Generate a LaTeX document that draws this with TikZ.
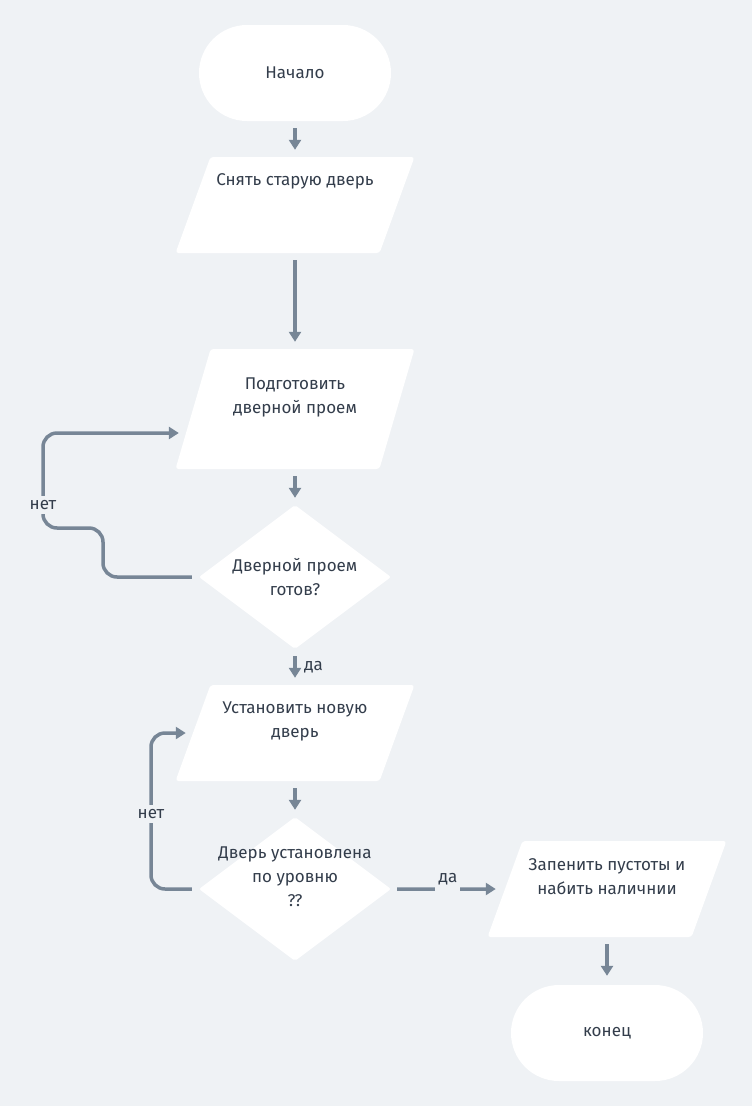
\documentclass[tikz,border=0pt]{standalone}
\usepackage{fontspec}
\setmainfont{Fira Sans}
\usetikzlibrary{shapes.geometric, arrows.meta}
\definecolor{bgcol}{HTML}{EFF2F5}
\definecolor{linecol}{HTML}{778696}
\definecolor{textcol}{HTML}{333D4B}

\begin{document}
\begin{tikzpicture}[x=1pt, y=-1pt,
    every node/.style={font=\fontsize{17}{24}\selectfont, text=textcol},
    terminal/.style={fill=white, rounded corners=48pt, minimum width=192pt, minimum height=96pt, inner sep=0pt},
    slanted/.style={trapezium, trapezium stretches body=true, trapezium left angle=70, trapezium right angle=110,
        fill=white, rounded corners=3pt, minimum width=239pt, inner sep=4pt},
    decision/.style={diamond, fill=white, rounded corners=2pt, minimum width=192pt, minimum height=144pt, inner sep=4pt},
    txt/.style={align=center, inner sep=0pt},
    flow/.style={draw=linecol, line width=3.5pt, shorten <=7pt, shorten >=7pt,
        -{Triangle[length=10pt, width=12pt]}},
    tag/.style={fill=bgcol, inner sep=4pt},
    gap/.style={fill=bgcol, minimum width=25pt, minimum height=10pt, inner sep=0pt}
]
    % Background and frame
    \fill[bgcol] (0,0) rectangle (752,1106);
    \useasboundingbox (0,0) rectangle (752,1106);

    % Main column
    \node[terminal] (start) at (295,73) {Начало};
    \node[slanted] (p1) at (295,205) {\rule{0pt}{88pt}};
    \node[txt] (t1) at ([yshift=24pt]p1.center) {Снять старую дверь};
    \node[slanted, trapezium left angle=73.7, trapezium right angle=106.3] (p2) at (295,409) {\rule{0pt}{112pt}};
    \node[txt] (t2) at ([yshift=12pt]p2.center) {Подготовить\\дверной проем};
    \node[decision] (d1) at (295,577) {\strut};
    \node[txt] (td1) at (d1.center) {Дверной проем\\готов?};
    \node[slanted] (p3) at (295,733) {\rule{0pt}{88pt}};
    \node[txt] (t3) at ([yshift=12pt]p3.center) {Установить новую\\дверь};
    \node[decision] (d2) at (295,889) {\strut};
    \node[txt] (td2) at ([yshift=12pt]d2.center) {Дверь установлена\\по уровню\\??};

    % Right column
    \node[slanted] (p4) at (607,889) {\rule{0pt}{88pt}};
    \node[txt] (t4) at ([yshift=12pt]p4.center) {Запенить пустоты и\\набить наличнии};
    \node[terminal] (end) at (607,1033) {конец};

    % Connectors
    \draw[flow] (start) -- (p1);
    \draw[flow] (p1) -- (p2);
    \draw[flow] (p2) -- (d1);
    \draw[flow] (d1) -- (p3) node[midway, right, xshift=4pt] {да};
    \draw[flow] (p3) -- (d2);
    \draw[flow, shorten <=6pt, shorten >=9pt] (d2) -- (p4)
        node[midway, gap, label={[label distance=-8pt]above:да}] {};
    \draw[flow, shorten >=9pt] (p4) -- (end);

    % Loops back
    \draw[flow, rounded corners=14pt] (d1.west) -- (103,577) -- (103,528) -- (43,528) -- (43,433)
        -- ([xshift=-7pt, yshift=-24pt]p2.west);
    \node[tag] (no1) at (43,505) {нет};
    \draw[flow, rounded corners=14pt] (d2.west) -- (151,889) -- (151,733) -- (p3.west);
    \node[tag] (no2) at (151,814) {нет};
\end{tikzpicture}
\end{document}
